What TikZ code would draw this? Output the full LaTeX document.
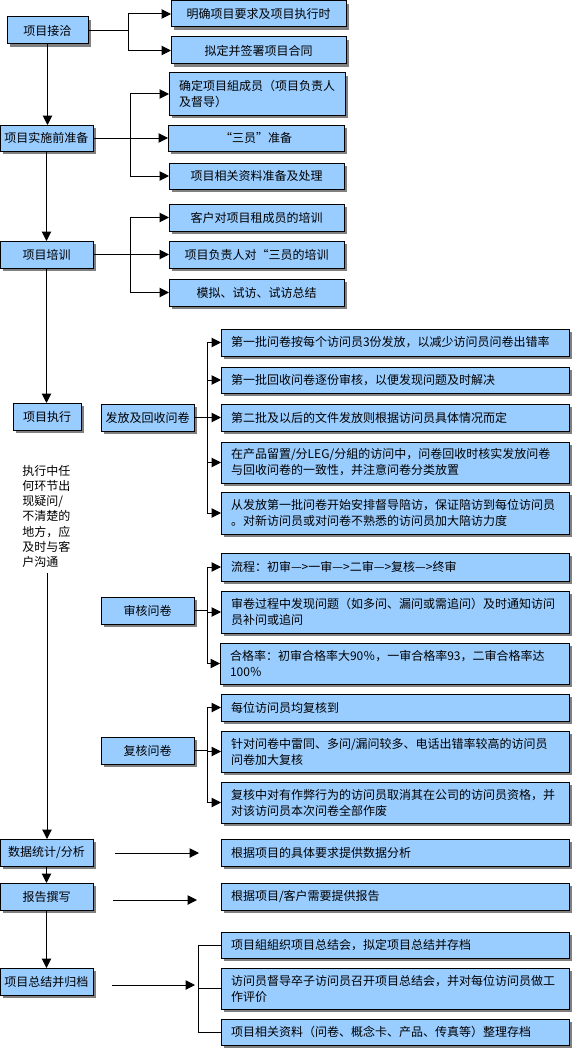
\documentclass[tikz,border=0pt]{standalone}
\usepackage{fontspec}
\newfontfamily\cjk{Noto Sans CJK SC}
\usetikzlibrary{arrows.meta,shadows}
\definecolor{boxblue}{RGB}{153,204,255}
\definecolor{shgray}{RGB}{128,128,128}
\tikzset{
  box/.style={draw, line width=0.75pt, fill=boxblue,
    drop shadow={shadow xshift=2.25pt, shadow yshift=-2.25pt, fill=shgray, opacity=1},
    font=\cjk\fontsize{9pt}{12pt}\selectfont, inner sep=0pt, outer sep=0pt},
  arr/.style={line width=0.75pt, -{Triangle[length=7pt,width=7pt]}},
  ln/.style={line width=0.75pt},
  notetext/.style={font=\cjk\fontsize{9pt}{11.4pt}\selectfont, align=left, inner sep=0pt},
}
\newcommand\mkcbox[6]{\pgfmathsetmacro\bw{(#4-#2)*0.75}\pgfmathsetmacro\bh{(#5-#3)*0.75}%
  \node[box,align=center,minimum width=\bw pt,minimum height=\bh pt,anchor=north west] (#1) at (#2,#3) {#6};}
\newcommand\mklbox[6]{\pgfmathsetmacro\bw{(#4-#2-20)*0.75}\pgfmathsetmacro\bh{(#5-#3)*0.75}%
  \node[box,align=left,text width=\bw pt,inner xsep=7.5pt,minimum height=\bh pt,anchor=north west] (#1) at (#2,#3) {#6};}
\begin{document}
\begin{tikzpicture}[x=0.75pt,y=-0.75pt]
\useasboundingbox (0,0) rectangle (572,1049);
% left column
\mkcbox{jq}{7}{17}{88}{44}{项目接洽}
\mkcbox{zb}{0}{125}{93}{151}{项目实施前准备}
\mkcbox{px}{0}{241}{93}{268}{项目培训}
\mkcbox{zx}{13}{403}{81}{430}{项目执行}
\node[notetext, anchor=north west] (note) at (22,465) {执行中任\\何环节出\\现疑问/\\不清楚的\\地方，应\\及时与客\\户沟通};
\mkcbox{sj}{0}{839}{93}{866}{数据统计/分析}
\mkcbox{bg}{0}{883}{93}{910}{报告撰写}
\mkcbox{zj}{0}{968}{93}{995}{项目总结并归档}
% top children
\mkcbox{t1}{171}{1}{346}{27}{明确项目要求及项目执行时}
\mkcbox{t2}{171}{37}{346}{64}{拟定并签署项目合同}
\mklbox{t3}{169}{73}{345}{115}{确定项目組成员（项目负责人\\及督导）}
\mkcbox{t4}{168}{125}{344}{151}{“三员”准备}
\mkcbox{t5}{169}{163}{344}{189}{项目相关资料准备及处理}
\mkcbox{t6}{169}{204}{344}{231}{客户对项目租成员的培训}
\mkcbox{t7}{169}{241}{344}{268}{项目负责人对“三员的培训}
\mkcbox{t8}{169}{279}{344}{306}{模拟、试访、试访总结}
% middle
\mkcbox{ff}{101}{404}{194}{431}{发放及回收问卷}
\mklbox{f1}{221}{329}{569}{356}{第一批问卷按每个访问员3份发放，以减少访问员问卷出错率}
\mklbox{f2}{221}{367}{569}{393}{第一批回收问卷逐份审核，以便发现问题及时解决}
\mklbox{f3}{221}{404}{569}{431}{第二批及以后的文件发放则根据访问员具体情况而定}
\mklbox{f4}{221}{442}{569}{483}{在产品留置/分LEG/分組的访问中，问卷回收时核实发放问卷\\与回收问卷的一致性，并注意问卷分类放置}
\mklbox{f5}{221}{492}{569}{534}{从发放第一批问卷开始安排督导陪访，保证陪访到每位访问员\\。对新访问员或对问卷不熟悉的访问员加大陪访力度}
\mkcbox{sh}{101}{597}{194}{624}{审核问卷}
\mklbox{s1}{221}{553}{569}{581}{流程：初审—>一审—>二审—>复核—>终审}
\mklbox{s2}{221}{591}{569}{633}{审卷过程中发现问题（如多问、漏问或需追问）及时通知访问\\员补问或追问}
\mklbox{s3}{220}{643}{569}{684}{合格率：初审合格率大90％，一审合格率93，二审合格率达\\100％}
\mkcbox{fh}{101}{737}{194}{764}{复核问卷}
\mklbox{h1}{221}{694}{569}{721}{每位访问员均复核到}
\mklbox{h2}{221}{731}{569}{772}{针对问卷中雷同、多问/漏问较多、电话出错率较高的访问员\\问卷加大复核}
\mklbox{h3}{221}{782}{569}{823}{复核中对有作弊行为的访问员取消其在公司的访问员资格，并\\对该访问员本次问卷全部作废}
% bottom right
\mklbox{r1}{221}{839}{569}{866}{根据项目的具体要求提供数据分析}
\mklbox{r2}{221}{883}{569}{910}{根据项目/客户需要提供报告}
\mklbox{z1}{221}{932}{569}{958}{项目組組织项目总结会，拟定项目总结并存档}
\mklbox{z2}{221}{968}{569}{1009}{访问员督导卒子访问员召开项目总结会，并对每位访问员做工\\作评价}
\mklbox{z3}{221}{1019}{569}{1045}{项目相关资料（问卷、概念卡、产品、传真等）整理存档}
% branch coordinates
\coordinate (k1) at (128,0);
\coordinate (k2) at (130,0);
\coordinate (k3) at (207,0);
\coordinate (k4) at (198,0);
% main vertical flow
\draw[arr] (jq.south) -- (jq.south |- zb.north);
\draw[arr] (zb.south) -- (zb.south |- px.north);
\draw[arr] (px.south) -- (px.south |- zx.north);
\draw[arr] ([yshift=-4pt]note.south -| zx.south) -- (zx.south |- sj.north);
\draw[arr] (sj.south) -- (sj.south |- bg.north);
\draw[arr] (bg.south) -- (bg.south |- zj.north);
% top branches
\draw[ln] (jq.east) -- (jq.east -| k1);
\draw[arr] (jq.east -| k1) |- (t1.west);
\draw[arr] (jq.east -| k1) |- (t2.west);
\draw[arr] (zb.east) -- (zb.east -| t4.west);
\draw[arr] (zb.east -| k2) |- (t3.west);
\draw[arr] (zb.east -| k2) |- (t5.west);
\draw[arr] (px.east) -- (px.east -| t7.west);
\draw[arr] (px.east -| k2) |- (t6.west);
\draw[arr] (px.east -| k2) |- (t8.west);
% middle branches
\draw[ln] (ff.east) -- (ff.east -| k3);
\foreach \t in {f1,f2,f3,f4,f5} \draw[arr] (ff.east -| k3) |- (\t.west);
\draw[ln] (sh.east) -- (sh.east -| k3);
\foreach \t in {s1,s2,s3} \draw[arr] (sh.east -| k3) |- (\t.west);
\draw[ln] (fh.east) -- (fh.east -| k3);
\foreach \t in {h1,h2,h3} \draw[arr] (fh.east -| k3) |- (\t.west);
% bottom free arrows
\coordinate (a1) at (115,853); \coordinate (a2) at (199,853);
\coordinate (b1) at (113,900); \coordinate (b2) at (197,900);
\coordinate (c1) at (112,985); \coordinate (c2) at (195,985);
\draw[arr] (a1) -- (a2);
\draw[arr] (b1) -- (b2);
\draw[arr] (c1) -- (c2);
% bottom bracket
\draw[ln] (z1.west) -| (z3.west -| k4) -- (z3.west);
\draw[ln] (z2.west -| k4) -- (z2.west);
\end{tikzpicture}
\end{document}
